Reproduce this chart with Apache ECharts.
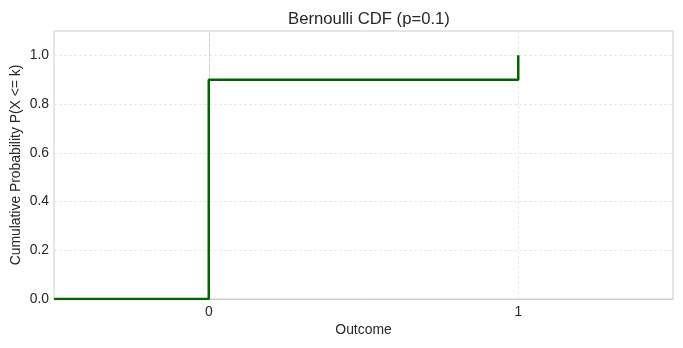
<!DOCTYPE html>
<html><head><meta charset="utf-8">
<script src="https://cdn.jsdelivr.net/npm/echarts@6/dist/echarts.min.js"></script>
<style>html,body{margin:0;padding:0;background:#fff}#c{width:683px;height:348px}</style>
</head><body><div id="c"></div>
<script>
const titleText = 'Bernoulli CDF (p=0.1)';
const outcomes = [0, 1];
const cdfValues = [0.9, 1.0];
const xRange = [-0.5, 1.5];
const yTicks = [0, 0.2, 0.4, 0.6, 0.8, 1.0];

// step path: start at left edge with 0, then step at each outcome
const stepData = [[xRange[0], 0]];
let prev = 0;
outcomes.forEach((k, i) => { stepData.push([k, prev]); stepData.push([k, cdfValues[i]]); prev = cdfValues[i]; });

const font = 'Liberation Sans, Arial, sans-serif';
const chart = echarts.init(document.getElementById('c'));
chart.setOption({
  animation: false,
  title: { text: titleText, left: 364, textAlign: 'center', top: 6,
    textStyle: { fontFamily: font, fontSize: 16.7, fontWeight: 'normal', color: '#262626' } },
  grid: { left: 54, right: 10, top: 31, bottom: 49, show: true, borderColor: '#cccccc', borderWidth: 1,
    containLabel: false, outerBoundsMode: 'none' },
  xAxis: {
    type: 'value', min: xRange[0], max: xRange[1], interval: 0.5,
    name: 'Outcome', nameLocation: 'middle', nameGap: 24, nameMoveOverlap: false,
    nameTextStyle: { fontFamily: font, fontSize: 13.9, color: '#262626' },
    axisLine: { show: true, lineStyle: { color: '#cccccc' } },
    axisTick: { show: false },
    splitLine: { show: false },
    axisLabel: { fontFamily: font, fontSize: 13.9, color: '#262626', margin: 6,
      formatter: v => (outcomes.includes(v) ? String(v) : '') }
  },
  yAxis: {
    type: 'value', min: 0, max: 1.1, interval: 0.2,
    name: 'Cumulative Probability P(X <= k)', nameLocation: 'middle', nameGap: 31, nameMoveOverlap: false,
    nameTextStyle: { fontFamily: font, fontSize: 13.9, color: '#262626' },
    axisLine: { show: true, lineStyle: { color: '#cccccc' } },
    axisTick: { show: false },
    splitLine: { show: true, lineStyle: { color: '#e3e3e3', type: [3, 2], width: 0.8 } },
    axisLabel: { fontFamily: font, fontSize: 13.9, color: '#262626', margin: 5,
      formatter: v => (yTicks.some(t => Math.abs(t - v) < 1e-9) ? v.toFixed(1) : '') }
  },
  series: [{
    type: 'line', data: stepData, showSymbol: false, symbol: 'none',
    lineStyle: { color: '#006400', width: 2.5 }, z: 3,
    markLine: { silent: true, symbol: 'none', label: { show: false },
      lineStyle: { color: '#e3e3e3', type: [3, 2], width: 0.8 },
      data: outcomes.map(k => ({ xAxis: k })), z: 1 }
  }]
});
</script></body></html>
